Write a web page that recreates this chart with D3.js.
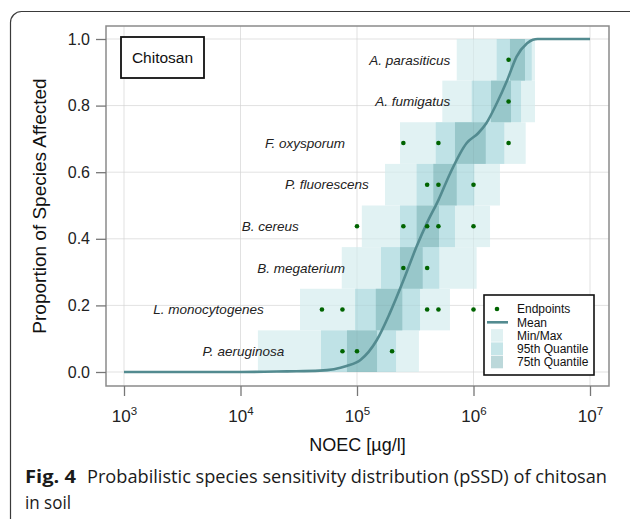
<!DOCTYPE html>
<html><head><meta charset="utf-8">
<script src="https://cdn.jsdelivr.net/npm/d3@7"></script>
<style>
html,body{margin:0;padding:0;background:#fff;}
svg{display:block;}
</style></head>
<body>
<svg id="chart" width="630" height="519"></svg>
<script>
// ---------- data ----------
const species = ["P. aeruginosa", "L. monocytogenes", "B. megaterium", "B. cereus",
                 "P. fluorescens", "F. oxysporum", "A. fumigatus", "A. parasiticus"];
const endpoints = [
  [75000, 100000, 200000],
  [50000, 75000, 400000, 500000, 1000000],
  [250000, 400000],
  [100000, 250000, 400000, 500000, 1000000],
  [400000, 500000, 1000000],
  [250000, 500000, 2000000],
  [2000000],
  [2000000]
];
const minmaxLo = [14100, 32400, 74000, 110000, 174000, 234000, 540000, 718000];
const minmaxHi = [340000, 628000, 1064000, 1387000, 1687000, 2805000, 3373000, 3373000];
const q95Lo = [49100, 96200, 160700, 233900, 325100, 474200, 966000, 1581000];
const q95Hi = [216300, 347500, 508200, 693400, 1016000, 1837000, 2559000, 3162000];
const q75Lo = [82000, 144900, 233900, 325100, 451900, 693400, 1413000, 2056000];
const q75Hi = [148600, 244900, 366400, 505800, 717800, 1274000, 2099000, 2767000];
const meanX = [1000, 10000, 25100, 47900, 81300, 107000, 148000, 191000, 251000, 324000, 398000,
               501000, 631000, 871000, 1096000, 1288000, 1585000, 1950000, 2344000, 2884000,
               3236000, 3548000, 10000000];
const meanY = [0, 0, 0.002, 0.004, 0.018, 0.036, 0.096, 0.176, 0.276, 0.376, 0.447,
               0.517, 0.597, 0.687, 0.717, 0.747, 0.807, 0.877, 0.947, 0.987,
               0.998, 1.0, 1.0];
const xTicks = [1e3, 1e4, 1e5, 1e6, 1e7];
const xTickExps = ["3", "4", "5", "6", "7"];
const yTicks = [0, 0.2, 0.4, 0.6, 0.8, 1.0];
const legendLabels = ["Endpoints", "Mean", "Min/Max", "95th Quantile", "75th Quantile"];
const panelLabel = "Chitosan";
const xTitle = "NOEC [µg/l]";
const yTitle = "Proportion of Species Affected";
const captionBold = "Fig. 4";
const captionRest = "Probabilistic species sensitivity distribution (pSSD) of chitosan";
const captionLine2 = "in soil";

// ---------- layout ----------
const svg = d3.select("#chart");
const P = {l: 106, r: 609, t: 26, b: 386};
const x = d3.scaleLog().domain([1e3, 1e7]).range([124, 590]);
const y = d3.scaleLinear().domain([0, 1]).range([372, 39]);
const nRank = species.length;
const colLight = "#e1f2f3", colMid = "#bfe2e6", colDark = "#98c7ca";
const curveCol = "#538b90", ptCol = "#006400";
const font = "'Liberation Sans', Arial, sans-serif";

// outer rounded frame
svg.append("rect").attr("x", 10.5).attr("y", 11.5).attr("width", 630).attr("height", 520)
  .attr("rx", 11).attr("fill", "none").attr("stroke", "#3a3a3a").attr("stroke-width", 1.2);

// panel background
svg.append("rect").attr("x", P.l).attr("y", P.t).attr("width", P.r - P.l).attr("height", P.b - P.t)
  .attr("fill", "#fff");

// gridlines
const grid = svg.append("g");
grid.selectAll(".gx").data(xTicks).join("line")
  .attr("x1", d => x(d)).attr("x2", d => x(d)).attr("y1", P.t).attr("y2", P.b)
  .attr("stroke", "#ebebeb").attr("stroke-width", 1);
grid.selectAll(".gy").data(yTicks).join("line")
  .attr("y1", d => y(d)).attr("y2", d => y(d)).attr("x1", P.l).attr("x2", P.r)
  .attr("stroke", "#ebebeb").attr("stroke-width", 1);

// bands
const bands = svg.append("g");
function drawBands(lo, hi, col) {
  bands.append("g").selectAll("rect").data(d3.range(nRank)).join("rect")
    .attr("x", i => x(lo[i]))
    .attr("width", i => x(hi[i]) - x(lo[i]))
    .attr("y", i => y((i + 1) / nRank))
    .attr("height", i => y(i / nRank) - y((i + 1) / nRank))
    .attr("fill", col);
}
drawBands(minmaxLo, minmaxHi, colLight);
drawBands(q95Lo, q95Hi, colMid);
drawBands(q75Lo, q75Hi, colDark);

// faint gridlines through bands
grid.clone(true).raise().selectAll("line").attr("stroke", "rgba(0,0,0,0.04)");

// mean curve
const line = d3.line().x(d => x(d[0])).y(d => y(d[1])).curve(d3.curveMonotoneX);
svg.append("path").datum(meanX.map((v, i) => [v, meanY[i]]))
  .attr("d", line).attr("fill", "none").attr("stroke", curveCol).attr("stroke-width", 2.6);

// endpoints
const pts = [];
endpoints.forEach((arr, i) => arr.forEach(v => pts.push([v, (i + 0.5) / nRank])));
svg.append("g").selectAll("circle").data(pts).join("circle")
  .attr("cx", d => x(d[0])).attr("cy", d => y(d[1])).attr("r", 2.3).attr("fill", ptCol);

// species labels
svg.append("g").selectAll("text").data(species).join("text")
  .attr("x", (s, i) => x(d3.min(endpoints[i]) / Math.sqrt(10)))
  .attr("y", (s, i) => y((i + 0.5) / nRank))
  .attr("dy", "0.35em").attr("text-anchor", "end")
  .attr("font-family", font).attr("font-style", "italic").attr("font-size", 13.5)
  .attr("fill", "#222").text(d => d);

// panel border
svg.append("rect").attr("x", P.l).attr("y", P.t).attr("width", P.r - P.l).attr("height", P.b - P.t)
  .attr("fill", "none").attr("stroke", "#8a8a8a").attr("stroke-width", 1.5);

// axes
const xAxis = svg.append("g").attr("transform", `translate(0,${P.b})`)
  .call(d3.axisBottom(x).tickValues(xTicks).tickSize(10).tickFormat(""));
xAxis.select(".domain").remove();
xAxis.selectAll(".tick line").attr("stroke", "#777").attr("stroke-width", 1.3);
xAxis.selectAll(".tick text").remove();
xAxis.selectAll(".tick").each(function(d, i) {
  const t = d3.select(this).append("text").attr("y", 36).attr("text-anchor", "middle")
    .attr("font-family", font).attr("font-size", 17).attr("fill", "#222");
  t.append("tspan").text("10");
  t.append("tspan").attr("dy", -7).attr("font-size", 11.5).text(xTickExps[i]);
});

const yAxis = svg.append("g").attr("transform", `translate(${P.l},0)`)
  .call(d3.axisLeft(y).tickValues(yTicks).tickSize(10).tickPadding(6).tickFormat(d3.format(".1f")));
yAxis.select(".domain").remove();
yAxis.selectAll(".tick line").attr("stroke", "#777").attr("stroke-width", 1.3);
yAxis.selectAll(".tick text").attr("font-family", font).attr("font-size", 16).attr("fill", "#222");

// axis titles
svg.append("text").attr("x", (P.l + P.r) / 2).attr("y", 451).attr("text-anchor", "middle")
  .attr("font-family", font).attr("font-size", 18).attr("fill", "#111").text(xTitle);
svg.append("text").attr("transform", `translate(46,${(P.t + P.b) / 2}) rotate(-90)`)
  .attr("text-anchor", "middle").attr("font-family", font).attr("font-size", 19)
  .attr("fill", "#111").text(yTitle);

// panel label box
svg.append("rect").attr("x", 121).attr("y", 37).attr("width", 83).attr("height", 41)
  .attr("fill", "#fff").attr("stroke", "#111").attr("stroke-width", 1.8);
svg.append("text").attr("x", 162.5).attr("y", 58).attr("dy", "0.35em").attr("text-anchor", "middle")
  .attr("font-family", font).attr("font-size", 15.5).attr("fill", "#111").text(panelLabel);

// legend
const lg = svg.append("g");
lg.append("rect").attr("x", 484).attr("y", 295).attr("width", 110).attr("height", 80)
  .attr("fill", "#fff").attr("stroke", "#111").attr("stroke-width", 1.6);
const ly = i => 309 + i * 13.3;
lg.append("circle").attr("cx", 497).attr("cy", ly(0)).attr("r", 2.3).attr("fill", ptCol);
lg.append("line").attr("x1", 487).attr("x2", 508).attr("y1", ly(1)).attr("y2", ly(1))
  .attr("stroke", curveCol).attr("stroke-width", 2.6);
const swCols = ["#e0f1f2", "#c6e5e8", "#bcd8da"];
swCols.forEach((c, k) => {
  lg.append("rect").attr("x", 491).attr("y", ly(k + 2) - 6.5).attr("width", 12).attr("height", 12.6)
    .attr("fill", c);
});
lg.selectAll("text").data(legendLabels).join("text")
  .attr("x", 517).attr("y", (d, i) => ly(i)).attr("dy", "0.35em")
  .attr("font-family", font).attr("font-size", 12).attr("fill", "#111").text(d => d);

// caption
const capFont = "'Open Sans', 'Noto Sans', sans-serif";
svg.append("text").attr("x", 25).attr("y", 483).attr("font-family", capFont)
  .attr("font-weight", "bold").attr("font-size", 17.5).attr("fill", "#1a1a1a")
  .attr("textLength", 51).attr("lengthAdjust", "spacingAndGlyphs").text(captionBold);
svg.append("text").attr("x", 87).attr("y", 483).attr("font-family", capFont)
  .attr("font-size", 17.5).attr("fill", "#1a1a1a")
  .attr("textLength", 520).attr("lengthAdjust", "spacingAndGlyphs").text(captionRest);
svg.append("text").attr("x", 25).attr("y", 509).attr("font-family", capFont)
  .attr("font-size", 17.5).attr("fill", "#1a1a1a")
  .attr("textLength", 46).attr("lengthAdjust", "spacingAndGlyphs").text(captionLine2);
</script>
</body></html>
